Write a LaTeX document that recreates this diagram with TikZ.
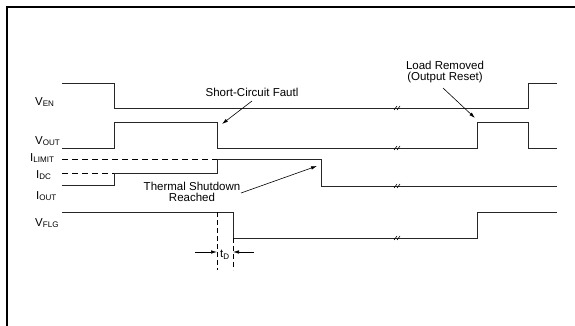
\documentclass[tikz,border=0pt]{standalone}
\usepackage{fontspec}
\setmainfont{Liberation Sans}
\usetikzlibrary{arrows.meta}
\begin{document}
\begin{tikzpicture}[x=1pt,y=-1pt,
  sig/.style={line width=0.9pt,black!85},
  ref/.style={line width=0.9pt,dash pattern=on 6pt off 4pt},
  vdash/.style={line width=0.7pt,dash pattern=on 5pt off 3pt},
  lbl/.style={font=\fontsize{11.5}{12}\selectfont,inner sep=0pt,anchor=west},
  note/.style={font=\fontsize{11.5}{11.5}\selectfont,inner sep=1pt,align=center},
  pointer/.style={line width=0.6pt,-{Latex[length=6pt,width=3.5pt]}},
  brk/.style={line width=0.6pt}]
\useasboundingbox (0,0) rectangle (575,326);
\draw[line width=2pt] (7,326) -- (7,7) -- (575,7);
% labels
\node[lbl] (len) at (35,102) {V\textsubscript{EN}};
\node[lbl] (lout) at (35,141) {V\textsubscript{OUT}};
\node[lbl] (llim) at (30,158) {I\textsubscript{LIMIT}};
\node[lbl] (ldc) at (36,175) {I\textsubscript{DC}};
\node[lbl] (liout) at (36,196) {I\textsubscript{OUT}};
\node[lbl] (lflg) at (35,223) {V\textsubscript{FLG}};
% V_EN
\draw[sig] (62,83) -- (114,83) -- (114,108) -- (528,108) -- (528,83) -- (557,83);
% V_OUT
\draw[sig] (62,148) -- (114,148) -- (114,122) -- (217,122) -- (217,148) -- (477,148) -- (477,122) -- (528,122) -- (528,148) -- (557,148);
% reference levels
\draw[ref] (62,159) -- (217,159);
\draw[ref] (62,173) -- (114,173);
% I_OUT
\draw[sig] (62,185) -- (114,185) -- (114,173) -- (217,173) -- (217,159) -- (321,159) -- (321,186) -- (557,186);
% V_FLG
\draw[sig] (62,212) -- (233,212) -- (233,238) -- (477,238) -- (477,212) -- (557,212);
% t_D markers
\draw[vdash] (217,212) -- (217,270);
\draw[vdash] (233,238) -- (233,270);
\coordinate (tdl) at (217,252);
\coordinate (tdr) at (233,252);
\coordinate (tdla) at (195,252);
\coordinate (tdra) at (254,252);
\draw[pointer] (tdla) -- (tdl);
\draw[pointer] (tdra) -- (tdr);
\node[font=\fontsize{11.5}{12}\selectfont,inner sep=0pt] (td) at (225,255) {t\textsubscript{D}};
% break marks
\foreach \y in {108,148,186,238}{
  \draw[brk] (394,\y+2) -- (397,\y-2);
  \draw[brk] (397,\y+2) -- (400,\y-2);
}
% annotations
\node[note] (scf) at (252,92) {Short-Circuit Fautl};
\coordinate (scfa) at (222,124);
\draw[pointer] (252,101) -- (scfa);
\node[note] (ths) at (192,192) {Thermal Shutdown\\Reached};
\coordinate (thsa) at (317,166);
\draw[pointer] (241,193) -- (thsa);
\node[note] (lr) at (445,72) {Load Removed\\(Output Reset)};
\coordinate (lra) at (475,118);
\draw[pointer] (443,88) -- (lra);
\end{tikzpicture}
\end{document}
